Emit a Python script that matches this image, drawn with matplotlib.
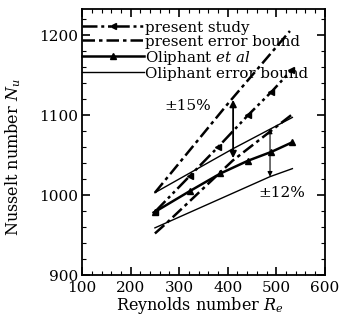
import matplotlib
matplotlib.use("Agg")
import matplotlib.pyplot as plt
from matplotlib.ticker import MultipleLocator

plt.rcParams['font.family'] = 'serif'
plt.rcParams['font.serif'] = ['DejaVu Serif']
plt.rcParams['mathtext.fontset'] = 'dejavuserif'
plt.rcParams['axes.unicode_minus'] = False

# Data
present_x = [250, 322, 380, 442, 490, 531]
present_y = [979, 1024, 1060, 1100, 1129, 1156]
present_up_x = [250, 400, 528]
present_up_y = [1003, 1114, 1205]
present_lo_x = [250, 274, 410, 531]
present_lo_y = [952, 965, 1043, 1100]
oli_x = [250, 322, 385, 442, 490, 533]
oli_y = [979, 1005, 1027, 1043, 1054, 1066]
oli_up_x = [250, 411, 533]
oli_up_y = [1003, 1058, 1097]
oli_lo_x = [250, 487, 533]
oli_lo_y = [959, 1023, 1033]

arrow15_x = 411
arrow15_y = (1046, 1119)
arrow12_x = 487
arrow12_y = (1023, 1083)

fig = plt.figure(figsize=(3.42, 3.24), dpi=100)
ax = fig.add_axes([0.240, 0.151, 0.710, 0.820])

ddot = (0, (6, 1.5, 1.2, 1.5, 1.2, 1.5))
ddash = (0, (5, 1.6, 1.4, 1.6))

ax.plot(present_x, present_y, color='black', lw=1.8, linestyle=ddot,
        marker='<', markersize=4.5, label='present study')
ax.plot(present_up_x, present_up_y, color='black', lw=1.8, linestyle=ddash,
        label='present error bound')
ax.plot(present_lo_x, present_lo_y, color='black', lw=1.8, linestyle=ddash)
ax.plot(oli_x, oli_y, color='black', lw=1.8, linestyle='-',
        marker='^', markersize=4.5, label=r'Oliphant $et\ al$')
ax.plot(oli_up_x, oli_up_y, color='black', lw=1.0, linestyle='-',
        label='Oliphant error bound')
ax.plot(oli_lo_x, oli_lo_y, color='black', lw=1.0, linestyle='-')

ax.annotate('', xy=(arrow15_x, arrow15_y[0]), xytext=(arrow15_x, arrow15_y[1]),
            arrowprops=dict(arrowstyle='<|-|>', color='black', lw=1.3,
                            mutation_scale=10, shrinkA=0, shrinkB=0))
ax.annotate('', xy=(arrow12_x, arrow12_y[0]), xytext=(arrow12_x, arrow12_y[1]),
            arrowprops=dict(arrowstyle='<|-|>', color='black', lw=0.8,
                            mutation_scale=7, shrinkA=0, shrinkB=0))

ax.text(270, 1111, '\u00b115%', fontsize=11, va='center', ha='left')
ax.text(464, 1003, '\u00b112%', fontsize=11, va='center', ha='left')

ax.set_xlim(100, 600)
ax.set_ylim(900, 1232)
ax.xaxis.set_major_locator(MultipleLocator(100))
ax.xaxis.set_minor_locator(MultipleLocator(20))
ax.yaxis.set_major_locator(MultipleLocator(100))
ax.yaxis.set_minor_locator(MultipleLocator(20))
ax.tick_params(which='both', direction='in', top=True, right=True, labelsize=11)
ax.tick_params(axis='x', pad=4.5)
ax.tick_params(axis='y', pad=2.5)
ax.tick_params(which='major', length=6, width=1.2)
ax.tick_params(which='minor', length=3, width=0.8)
for s in ax.spines.values():
    s.set_linewidth(1.3)

ax.set_xlabel(r'Reynolds number $R_e$', fontsize=11.5)
ax.set_ylabel(r'Nusselt number $N_u$', fontsize=11.5)
ax.xaxis.set_label_coords(0.486, -0.075)
ax.yaxis.set_label_coords(-0.243, 0.443)

leg = ax.legend(loc='upper left', bbox_to_anchor=(0.0, 0.958), fontsize=10.8,
                frameon=False, handlelength=4.1, handletextpad=0.1,
                labelspacing=0.0, borderaxespad=0.0, borderpad=0.0)

fig.savefig('out.png', dpi=100)
